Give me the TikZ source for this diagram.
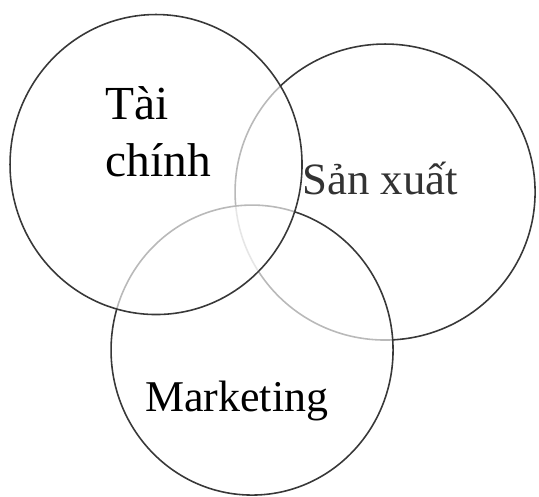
\documentclass[tikz,border=0pt]{standalone}
\usepackage{fontspec}
\setmainfont{Liberation Serif}
\colorlet{myink}{black!78}
\colorlet{mytext}{black!80}
\begin{document}
\begin{tikzpicture}[yscale=-1, scale=0.02,
    ring/.style={draw=myink, line width=0.9pt},
    % a white veil softens the lines of the circles lying beneath
    veil/.style={fill=white, fill opacity=0.65},
    word/.style={inner sep=0, anchor=base west, text=black,
                 font=\fontsize{27}{32}\selectfont},
  ]
  \useasboundingbox (0,0) rectangle (539,497);

  % centres of the three areas
  \coordinate (sx) at (385,192);
  \coordinate (mk) at (252,350);
  \coordinate (tc) at (156,164.5);

  % back to front: san xuat, marketing, tai chinh
  \draw[ring] (sx) ellipse [x radius=150, y radius=148];
  \fill[veil] (mk) ellipse [x radius=141, y radius=145];
  \draw[ring] (mk) ellipse [x radius=141, y radius=145];
  \fill[veil] (tc) ellipse [x radius=146, y radius=150];
  \draw[ring] (tc) ellipse [x radius=146, y radius=150];

  % labels
  \node[word] (tai) at (105,120) {Tài};
  \node[word] (chinh) at (105,177) {chính};
  \node[word, text=mytext, font=\fontsize{25.5}{30}\selectfont] (sanxuat) at (302,195) {Sản xuất};
  \node[word, font=\fontsize{25}{30}\selectfont] (marketing) at (145,412) {Marketing};
\end{tikzpicture}
\end{document}
